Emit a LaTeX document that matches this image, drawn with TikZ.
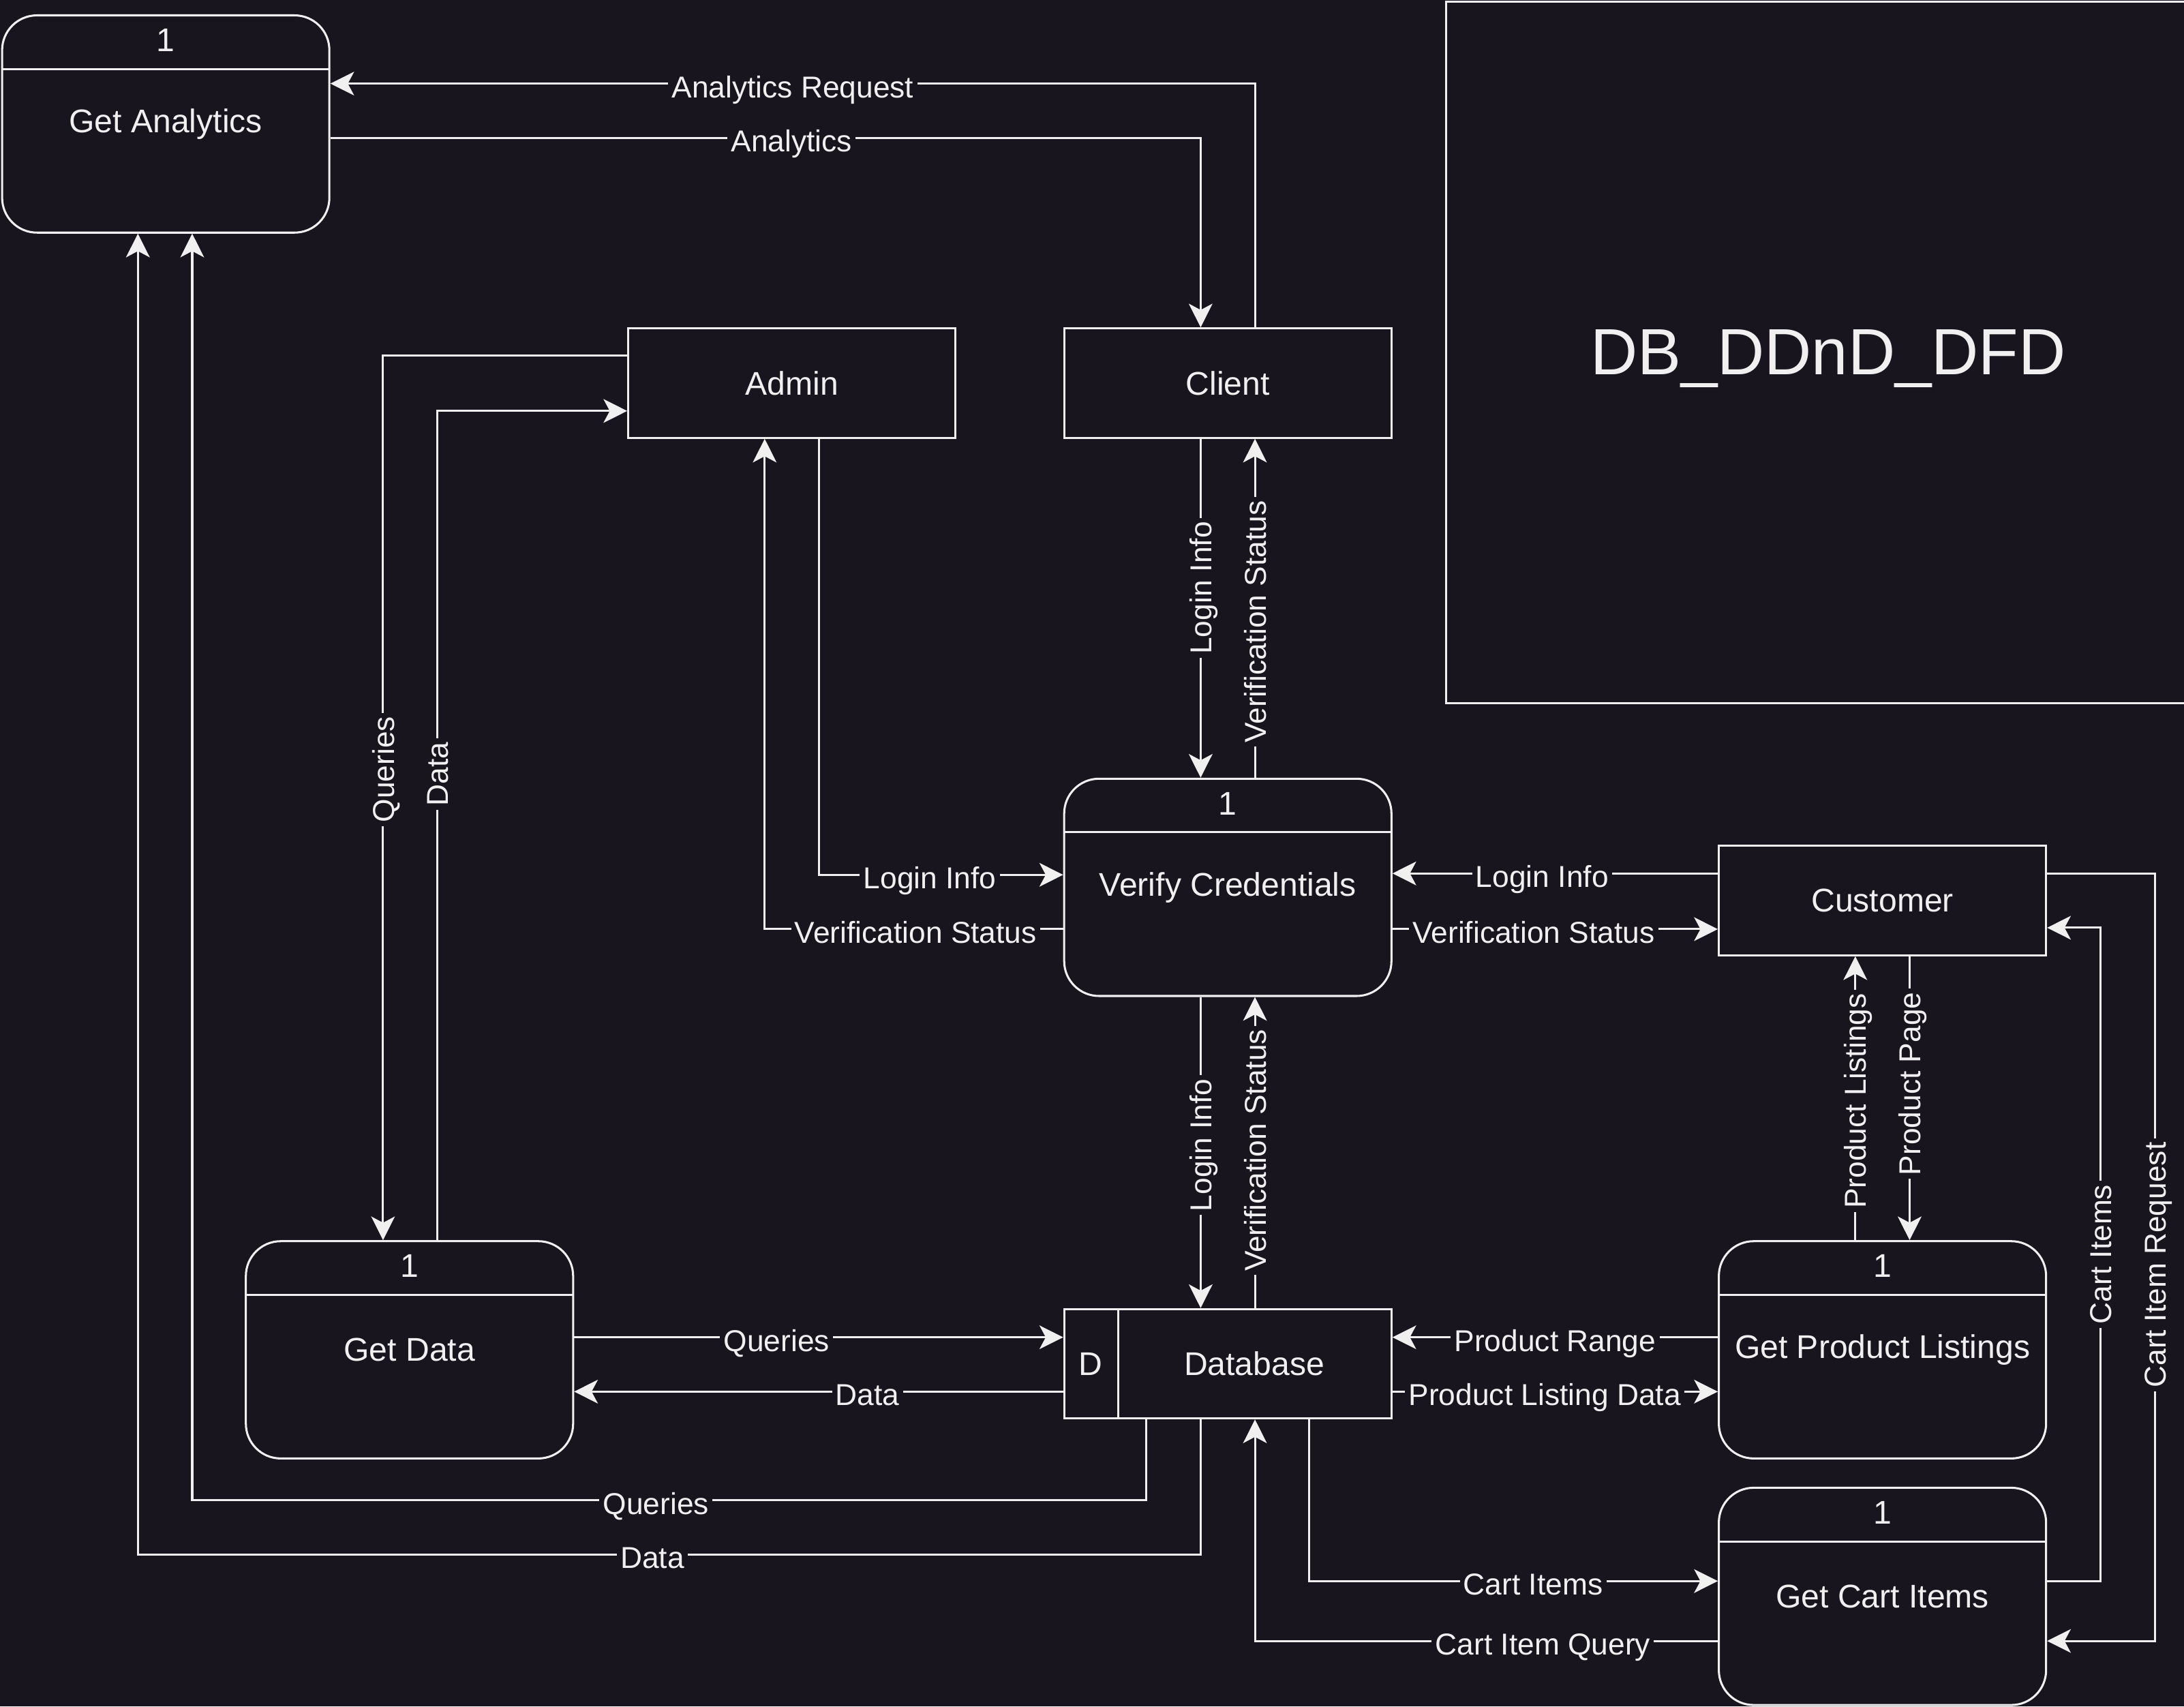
\documentclass[tikz,border=0pt]{standalone}
\usepackage{fontspec}
\setmainfont{Liberation Sans}
\usetikzlibrary{arrows.meta}
\definecolor{bgdark}{HTML}{18151E}
\definecolor{fgline}{HTML}{F0F0F0}

\begin{document}
\begin{tikzpicture}[line cap=butt,line join=miter,>={Stealth[length=0.34cm,width=0.34cm,inset=0.09cm]},x=0.02cm,y=-0.02cm,
  entity/.style={draw=fgline,line width=0.85pt,minimum width=4.7cm,minimum height=1.57cm,inner sep=0pt,text=fgline,font=\fontsize{13.4}{15}\selectfont},
  proc/.style={entity,rounded corners=0.5cm,minimum height=3.12cm,
    label={[anchor=center,yshift=-0.37cm,text=fgline,font=\fontsize{13.4}{15}\selectfont]north:1},
    path picture={\draw[fgline,line width=0.85pt] ([yshift=-0.77cm]path picture bounding box.north west) -- ([yshift=-0.77cm]path picture bounding box.north east);}},
  store/.style={entity,
    path picture={\draw[fgline,line width=0.85pt] ([xshift=0.78cm]path picture bounding box.north west) -- ([xshift=0.78cm]path picture bounding box.south west);}},
  lbl/.style={fill=bgdark,text=fgline,inner sep=1.5pt,text depth=0.2em,text height=1.34em,font=\fontsize{12.35}{14}\selectfont},
  vlbl/.style={lbl,text height=1.1em,rotate=90},
  flow/.style={->,draw=fgline,line width=0.85pt}]
\useasboundingbox[fill=bgdark] (0,0) rectangle (1568,1225);
% title
\node[draw=fgline,line width=0.85pt,minimum width=10.98cm,minimum height=10.08cm,text depth=0pt,text=fgline,font=\fontsize{26.7}{30}\selectfont] (title) at (1312.5,253) {DB\_DDnD\_DFD};
% entities and processes
\node[proc] (analytics) at (119,89) {Get Analytics};
\node[entity] (admin) at (568.5,275) {Admin};
\node[entity] (client) at (881.5,275) {Client};
\node[proc] (verify) at (881.5,637) {Verify Credentials};
\node[entity] (customer) at (1351.5,646.5) {Customer};
\node[proc] (getdata) at (294,969) {Get Data};
\node[store,label={[anchor=center,xshift=0.39cm,text=fgline,font=\fontsize{13.4}{15}\selectfont]west:D}] (db) at (881.5,979) {\hspace*{0.76cm}Database};
\node[proc] (listings) at (1351.5,969) {Get Product Listings};
\node[proc] (cart) at (1351.5,1146) {Get Cart Items};
% analytics
\draw[flow] (client.north -| 901,0) |- (analytics.east |- 0,60) node[lbl,pos=0.75] {Analytics Request};
\draw[flow] (analytics.east |- 0,99) -| (client.north -| 862,0) node[lbl,pos=0.265] {Analytics};
% admin
\draw[flow] (admin.west |- 0,255) -| (getdata.north -| 275,0) node[vlbl,pos=0.734] {Queries};
\draw[flow] (getdata.north -| 314,0) |- (admin.west |- 0,295) node[vlbl,pos=0.281] {Data};
\draw[flow] (admin.south -| 588,0) |- (verify.west |- 0,628) node[lbl,pos=0.727] {Login Info};
\draw[flow] (verify.west |- 0,667) -| (admin.south -| 549,0) node[lbl,pos=0.247] {Verification Status};
% client
\draw[flow] (client.south -| 862,0) -- (verify.north -| 862,0) node[vlbl,pos=0.44] {Login Info};
\draw[flow] (verify.north -| 901,0) -- (client.south -| 901,0) node[vlbl,pos=0.46] {Verification Status};
% customer
\draw[flow] (customer.west |- 0,627) -- (verify.east |- 0,627) node[lbl,pos=0.54] {Login Info};
\draw[flow] (verify.east |- 0,667) -- (customer.west |- 0,667) node[lbl,pos=0.434] {Verification Status};
% database
\draw[flow] (verify.south -| 862,0) -- (db.north -| 862,0) node[vlbl,pos=0.476] {Login Info};
\draw[flow] (db.north -| 901,0) -- (verify.south -| 901,0) node[vlbl,pos=0.507] {Verification Status};
\draw[flow] (getdata.east |- 0,960) -- (db.west |- 0,960) node[lbl,pos=0.414] {Queries};
\draw[flow] (db.west |- 0,999) -- (getdata.east |- 0,999) node[lbl,pos=0.4] {Data};
\draw[flow] (db.south -| 823,0) |- (138,1077) node[lbl,pos=0.757] {Queries} -- (analytics.south -| 138,0);
\draw[flow] (db.south -| 862,0) |- (99,1116) node[lbl,pos=0.758] {Data} -- (analytics.south -| 99,0);
\draw[flow] (listings.west |- 0,960) -- (db.east |- 0,960) node[lbl,pos=0.5] {Product Range};
\draw[flow] (db.east |- 0,999) -- (listings.west |- 0,999) node[lbl,pos=0.468] {Product Listing Data};
% products and cart
\draw[flow] (listings.north -| 1332,0) -- (customer.south -| 1332,0) node[vlbl,pos=0.49] {Product Listings};
\draw[flow] (customer.south -| 1371,0) -- (listings.north -| 1371,0) node[vlbl,pos=0.449] {Product Page};
\draw[flow] (db.south -| 940,0) |- (cart.west |- 0,1135) node[lbl,pos=0.774] {Cart Items};
\draw[flow] (cart.west |- 0,1178) -| (db.south -| 901,0) node[lbl,pos=0.189] {Cart Item Query};
\draw[flow] (cart.east |- 0,1135) -| (1508,666) node[vlbl,pos=0.75] {Cart Items} -- (customer.east |- 0,666);
\draw[flow] (customer.east |- 0,627) -| (1547,1178) node[vlbl,pos=0.755] {Cart Item Request} -- (cart.east |- 0,1178);
\end{tikzpicture}
\end{document}
